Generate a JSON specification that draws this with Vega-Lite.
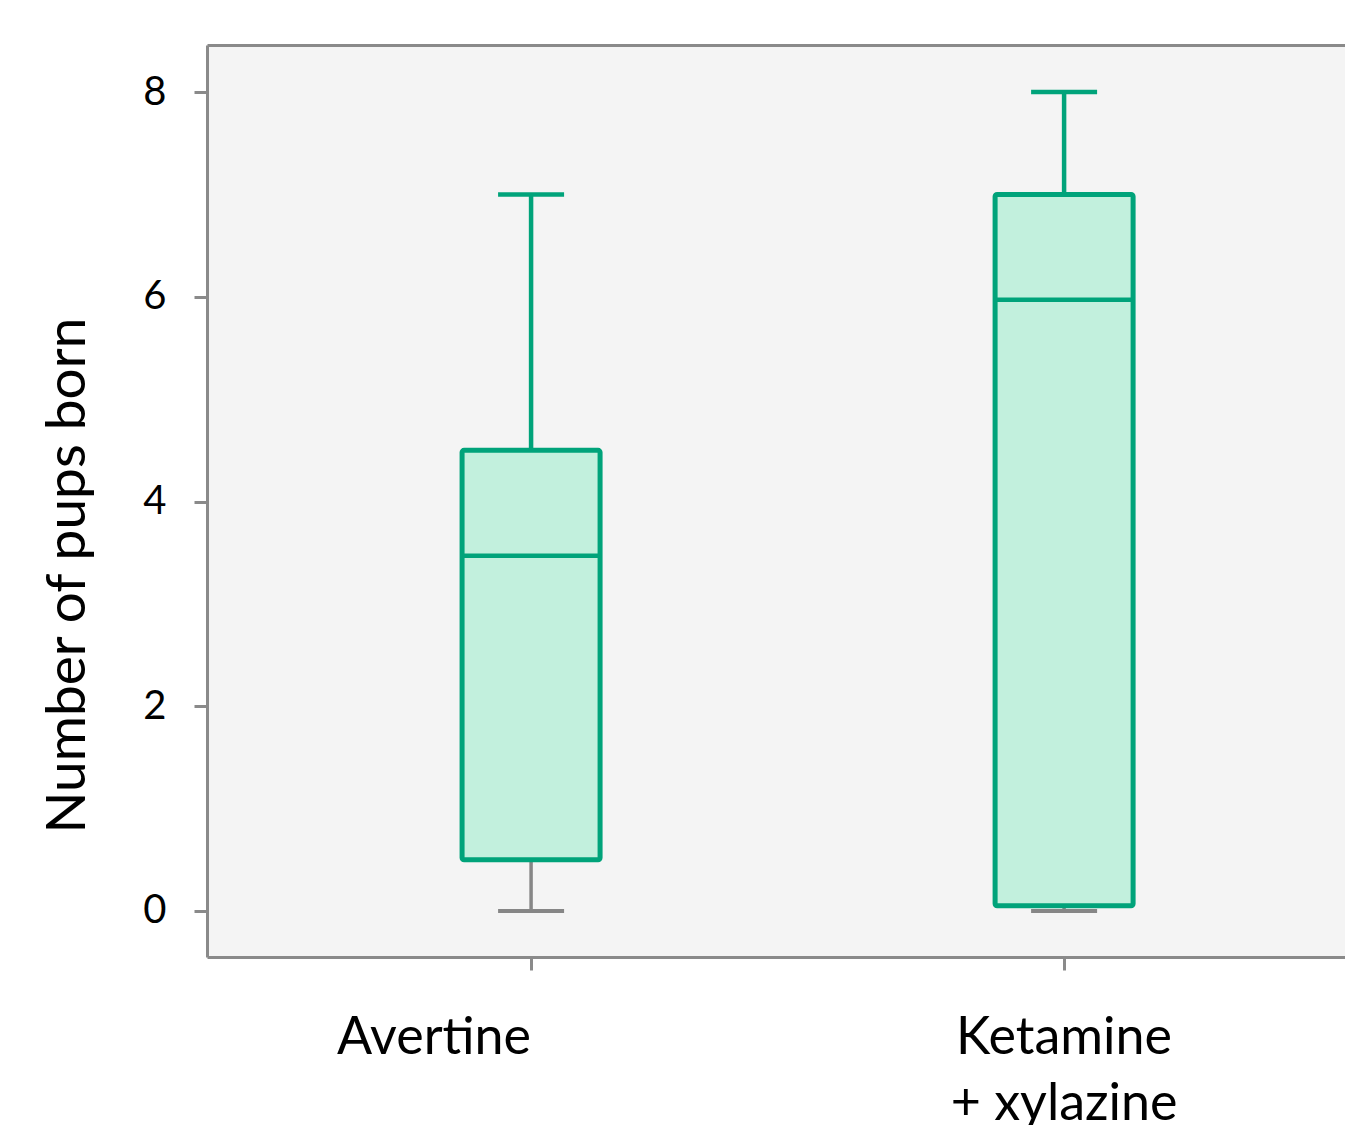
{
  "$schema": "https://vega.github.io/schema/vega-lite/v6.json",
  "autosize": "none",
  "width": 1138,
  "height": 912,
  "padding": {"left": 207, "top": 45, "right": 0, "bottom": 168},
  "background": "white",
  "data": {
    "values": [
      {"group": "Avertine", "lo": 0, "q1": 0.5, "med": 3.47, "q3": 4.5, "hi": 7},
      {"group": "Ketamine + xylazine", "lo": 0, "q1": 0.05, "med": 5.97, "q3": 7, "hi": 8}
    ]
  },
  "resolve": {"axis": {"x": "independent"}},
  "layer": [
    {
      "mark": {"type": "rule", "color": "#868686", "strokeWidth": 3.5},
      "encoding": {
        "x": {
          "field": "group", "type": "nominal", "sort": null,
          "scale": {"paddingInner": 0, "paddingOuter": 0.0675, "align": 0.8},
          "axis": {
            "orient": "bottom",
            "title": null,
            "labelAngle": 0,
            "labelExpr": "datum.value == 'Ketamine + xylazine' ? ['Ketamine', '+ xylazine'] : datum.label",
            "labelAlign": {"condition": {"test": "datum.value == 'Avertine'", "value": "right"}, "value": "center"}
          }
        },
        "y": {
          "field": "lo", "type": "quantitative", "title": "Number of pups born",
          "scale": {"domain": [-0.45, 8.46], "nice": false, "zero": false},
          "axis": {"values": [0, 2, 4, 6, 8], "format": "d", "titleY": 530}
        },
        "y2": {"field": "q1"}
      }
    },
    {
      "mark": {"type": "tick", "color": "#868686", "opacity": 1, "size": 66, "thickness": 4},
      "encoding": {
        "x": {"field": "group", "type": "nominal", "sort": null, "axis": null},
        "y": {"field": "lo", "type": "quantitative", "title": "Number of pups born"}
      }
    },
    {
      "mark": {"type": "rule", "color": "#00a37a", "strokeWidth": 4.5},
      "encoding": {
        "x": {"field": "group", "type": "nominal", "sort": null, "axis": null},
        "y": {"field": "q3", "type": "quantitative", "title": "Number of pups born"},
        "y2": {"field": "hi"}
      }
    },
    {
      "mark": {"type": "tick", "color": "#00a37a", "opacity": 1, "size": 66, "thickness": 4.5},
      "encoding": {
        "x": {"field": "group", "type": "nominal", "sort": null, "axis": null},
        "y": {"field": "hi", "type": "quantitative", "title": "Number of pups born"}
      }
    },
    {
      "mark": {"type": "bar", "fill": "#c2f0dd", "stroke": "#00a37a", "strokeWidth": 5, "size": 138, "cornerRadius": 2},
      "encoding": {
        "x": {
          "field": "group", "type": "nominal", "sort": null,
          "axis": {"orient": "top", "title": null, "labels": false, "ticks": false, "domainColor": "#8a8a8a", "domainWidth": 3}
        },
        "y": {"field": "q1", "type": "quantitative", "title": "Number of pups born"},
        "y2": {"field": "q3"}
      }
    },
    {
      "mark": {"type": "tick", "color": "#00a37a", "opacity": 1, "size": 138, "thickness": 4.5},
      "encoding": {
        "x": {"field": "group", "type": "nominal", "sort": null, "axis": null},
        "y": {"field": "med", "type": "quantitative", "title": "Number of pups born"}
      }
    }
  ],
  "config": {
    "font": "Lato",
    "view": {"stroke": null, "fill": "#f4f4f4"},
    "axisY": {
      "grid": false,
      "domainColor": "#8a8a8a",
      "domainWidth": 3,
      "tickColor": "#8a8a8a",
      "tickWidth": 3,
      "tickSize": 13,
      "labelFontSize": 40,
      "labelColor": "black",
      "labelPadding": 28,
      "titleFontSize": 55,
      "titleFontWeight": "normal",
      "titleColor": "black",
      "titlePadding": 46
    },
    "axisX": {
      "grid": false,
      "domainColor": "#8a8a8a",
      "domainWidth": 3,
      "tickColor": "#8a8a8a",
      "tickWidth": 3,
      "tickSize": 13,
      "labelFontSize": 52,
      "labelColor": "black",
      "labelPadding": 42,
      "labelLineHeight": 66,
      "labelLimit": 0
    }
  }
}
